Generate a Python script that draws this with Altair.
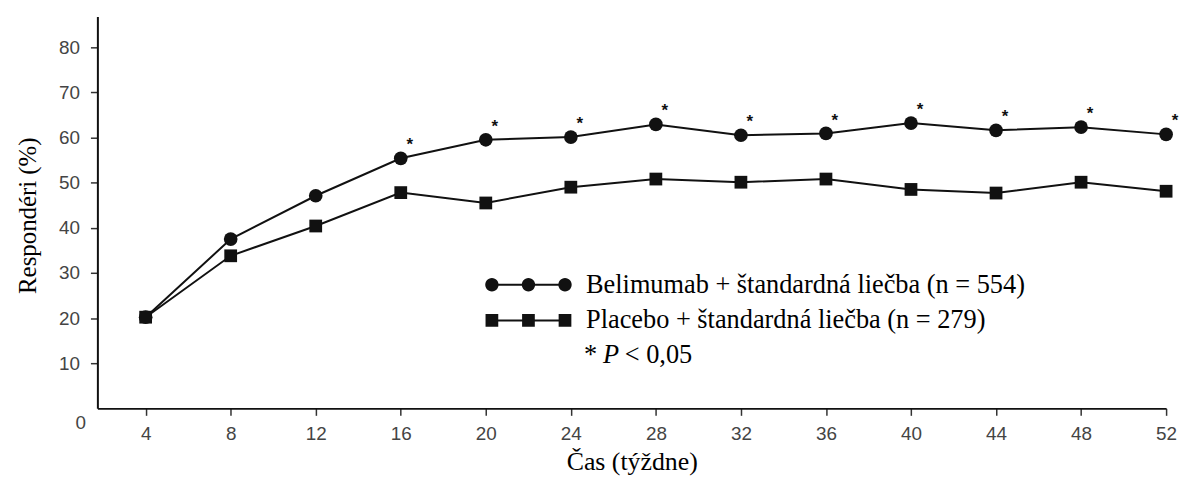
import altair as alt
import pandas as pd
import math

# ---- data ----
weeks = [4, 8, 12, 16, 20, 24, 28, 32, 36, 40, 44, 48, 52]
belimumab = [20.2, 37.5, 47.1, 55.4, 59.5, 60.1, 62.9, 60.5, 60.9, 63.2, 61.6, 62.3, 60.7]
placebo = [20.2, 33.8, 40.4, 47.8, 45.5, 49.0, 50.8, 50.1, 50.8, 48.5, 47.7, 50.1, 48.1]
significant_weeks = [16, 20, 24, 28, 32, 36, 40, 44, 48, 52]
series_names = ["Belimumab + štandardná liečba (n = 554)",
                "Placebo + štandardná liečba (n = 279)"]
y_ticks = [0, 10, 20, 30, 40, 50, 60, 70, 80]
x_ticks = weeks
x_title = "Čas (týždne)"
y_title = "Respondéri (%)"

INK = "#111111"

df_b = pd.DataFrame({"week": weeks, "pct": belimumab, "series": series_names[0]})
df_p = pd.DataFrame({"week": weeks, "pct": placebo, "series": series_names[1]})
df_all = pd.concat([df_b, df_p], ignore_index=True)
df_star = df_b[df_b["week"].isin(significant_weeks)].copy()
df_star["mark"] = "*"

x_scale = alt.Scale(domain=[1.73, 52], nice=False, zero=False)
y_scale = alt.Scale(domain=[0, 86.8], nice=False, zero=False)

x_axis = alt.Axis(values=x_ticks, title=x_title, tickSize=7, tickWidth=1.5,
                  tickColor="#333333", domainColor=INK, domainWidth=2,
                  labelFont="Liberation Sans", labelFontSize=19, labelColor="#444444",
                  labelPadding=9, grid=False, titleFont="Liberation Serif",
                  titleFontSize=26, titleFontWeight="normal", titleColor="black",
                  titlePadding=6, labelFlush=False)
y_axis = alt.Axis(values=y_ticks, title=y_title, tickSize=7, tickWidth=1.5,
                  tickColor="#333333", domainColor=INK, domainWidth=2,
                  labelFont="Liberation Sans", labelFontSize=19, labelColor="#444444",
                  labelPadding={"condition": {"test": "datum.value === 0", "value": 5}, "value": 11},
                  labelOffset={"condition": {"test": "datum.value === 0", "value": 14}, "value": 0},
                  tickOpacity={"condition": {"test": "datum.value === 0", "value": 0}, "value": 1},
                  grid=False, titleFont="Liberation Serif", titleFontSize=25,
                  titleFontWeight="normal", titleColor="black",
                  titleX=-70, titleY=200, titleBaseline="middle", titleAngle=270,
                  labelFlush=False)

X = alt.X("week:Q", scale=x_scale, axis=x_axis)
Y = alt.Y("pct:Q", scale=y_scale, axis=y_axis)

line_b = alt.Chart(df_b).mark_line(color=INK, strokeWidth=2).encode(x=X, y=Y)
line_p = alt.Chart(df_p).mark_line(color=INK, strokeWidth=2).encode(x=X, y=Y)
pts_p = alt.Chart(df_p).mark_point(shape="square", filled=True, size=165,
                                   color=INK, opacity=1).encode(x=X, y=Y)
pts_b = alt.Chart(df_b).mark_point(shape="circle", filled=True, size=190,
                                   color=INK, opacity=1).encode(x=X, y=Y)
stars = alt.Chart(df_star).mark_text(font="Liberation Sans", fontSize=17,
                                     fontWeight="bold", color=INK, dx=9, dy=-13).encode(
    x=X, y=Y, text="mark:N")

# legend symbols: line with three markers (custom SVG paths, unit = sqrt(size)/2 px)
def _bar(c, h):
    return f"M{-c},{-h}L{c},{-h}L{c},{h}L{-c},{h}Z"

def circles_path(r=0.42, c=2.3, h=0.065, n=28):
    p = _bar(c, h)
    for cx in (-c, 0, c):
        pts = [(cx + r * math.cos(2 * math.pi * k / n), r * math.sin(2 * math.pi * k / n))
               for k in range(n)]
        p += "M" + "L".join(f"{x:.3f},{y:.3f}" for x, y in pts) + "Z"
    return p

def squares_path(s=0.4, c=2.3, h=0.065):
    p = _bar(c, h)
    for cx in (-c, 0, c):
        p += f"M{cx - s},{-s}L{cx + s},{-s}L{cx + s},{s}L{cx - s},{s}Z"
    return p

legend_layer = alt.Chart(df_all).transform_filter("false").mark_point(
    filled=True, color=INK, opacity=1).encode(
    x=X, y=Y,
    shape=alt.Shape("series:N",
                    scale=alt.Scale(domain=series_names,
                                    range=[circles_path(), squares_path()]),
                    legend=alt.Legend(orient="none", legendX=418, legendY=254,
                                      title=None, labelFont="Liberation Serif",
                                      labelFontSize=26.5, labelColor="black",
                                      symbolSize=1024, symbolStrokeWidth=0,
                                      symbolFillColor=INK, symbolOpacity=1,
                                      labelOffset=42, rowPadding=6,
                                      symbolOffset=0, padding=0,
                                      labelLimit=0)))

# significance note under the legend
note_star = alt.Chart(df_b.head(1)).mark_text(
    text="*", font="Liberation Serif", fontSize=26.5, color="black",
    align="left", baseline="middle").encode(x=alt.value(490), y=alt.value(341))
note_p = alt.Chart(df_b.head(1)).mark_text(
    text="P", font="Liberation Serif", fontSize=26.5, fontStyle="italic",
    color="black", align="left", baseline="middle").encode(x=alt.value(509), y=alt.value(341))
note_rest = alt.Chart(df_b.head(1)).mark_text(
    text="< 0,05", font="Liberation Serif", fontSize=26.5, color="black",
    align="left", baseline="middle").encode(x=alt.value(531), y=alt.value(341))

chart = alt.layer(
    line_p, line_b, pts_p, pts_b, stars, legend_layer, note_star, note_p, note_rest
).properties(
    width=1076, height=394.5,
    padding={"left": 8, "top": 7, "right": 2, "bottom": 2},
    background="white",
).configure_view(stroke=None)

chart.save("out.html", embed_options={"renderer": "svg", "actions": False})
